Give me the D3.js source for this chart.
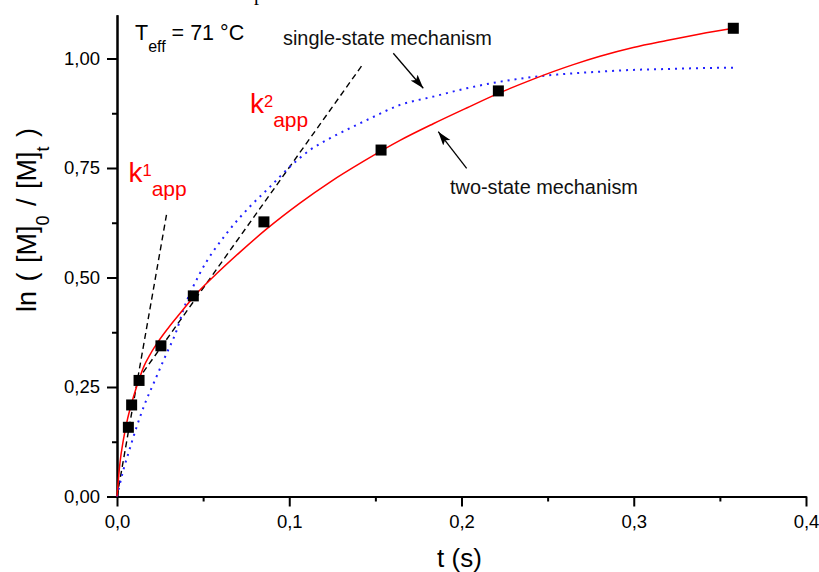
<!DOCTYPE html>
<html>
<head>
<meta charset="utf-8">
<script src="https://cdn.jsdelivr.net/npm/d3@7"></script>
<style>
  body { margin: 0; background: #fff; }
  svg { display: block; font-family: "Liberation Sans", Arial, Helvetica, sans-serif; }
</style>
</head>
<body>
<svg id="chart" width="819" height="572"></svg>
<script>
// Measured conversion: t (s) vs ln([M]0/[M]t)
const measuredT = [0.0066, 0.0085, 0.0128, 0.0255, 0.0443, 0.0853, 0.1533, 0.2214, 0.3578];
const measuredY = [0.158, 0.209, 0.265, 0.344, 0.458, 0.627, 0.791, 0.926, 1.069];

// Two-state mechanism fit
const twoStateT = [0, 0.0017, 0.0037, 0.0060, 0.0085, 0.0110, 0.0134, 0.0155, 0.0192, 0.0240,
  0.0300, 0.0370, 0.0443, 0.0579, 0.0714, 0.0869, 0.1062, 0.1237, 0.1430, 0.1643, 0.1836,
  0.2030, 0.2224, 0.2417, 0.2649, 0.2804, 0.2997, 0.3191, 0.3385, 0.3578];
const twoStateY = [0, 0.076, 0.129, 0.175, 0.213, 0.246, 0.274, 0.296, 0.324, 0.354,
  0.386, 0.420, 0.455, 0.509, 0.558, 0.611, 0.670, 0.718, 0.765, 0.813, 0.851,
  0.887, 0.922, 0.953, 0.986, 1.005, 1.025, 1.041, 1.056, 1.069];

// Single-state mechanism fit
const singleStateT = [0, 0.0037, 0.0066, 0.0114, 0.0163, 0.0221, 0.0279, 0.0347, 0.0385, 0.0482,
  0.0637, 0.0772, 0.0888, 0.1004, 0.1120, 0.1237, 0.1353, 0.1469, 0.1643, 0.1836, 0.2030,
  0.2224, 0.2417, 0.2611, 0.2804, 0.2997, 0.3191, 0.3385, 0.3578];
const singleStateY = [0, 0.0605, 0.0986, 0.159, 0.213, 0.266, 0.319, 0.380, 0.426, 0.510,
  0.601, 0.662, 0.707, 0.753, 0.791, 0.818, 0.841, 0.863, 0.894, 0.913, 0.932,
  0.947, 0.958, 0.965, 0.970, 0.974, 0.976, 0.978, 0.979];

// Initial-rate tangents k1_app and k2_app
const k1LineT = [0, 0.0289];
const k1LineY = [0, 0.647];
const k2LineT = [0.0118, 0.1431];
const k2LineY = [0.265, 0.989];

// Axis ticks
const xTickValues = [0, 0.1, 0.2, 0.3, 0.4];
const xTickLabels = ["0,0", "0,1", "0,2", "0,3", "0,4"];
const xMinorTicks = [0.05, 0.15, 0.25, 0.35];
const yTickValues = [0, 0.25, 0.5, 0.75, 1.0];
const yTickLabels = ["0,00", "0,25", "0,50", "0,75", "1,00"];
const yMinorTicks = [0.125, 0.375, 0.625, 0.875];

const svg = d3.select("#chart");
const x = d3.scaleLinear().domain([0, 0.4]).range([117, 806]);
const y = d3.scaleLinear().domain([0, 1.1]).range([496.5, 14.7]);

const pts = (ts, ys) => ts.map((t, i) => [t, ys[i]]);
const line = d3.line().x(d => x(d[0])).y(d => y(d[1]));
const smooth = d3.line().x(d => x(d[0])).y(d => y(d[1])).curve(d3.curveMonotoneX);

// Arrow marker
svg.append("defs").append("marker")
  .attr("id", "arrow").attr("markerUnits", "userSpaceOnUse")
  .attr("markerWidth", 15).attr("markerHeight", 10)
  .attr("refX", 14).attr("refY", 5).attr("orient", "auto")
  .append("path").attr("d", "M0,0.5 L14,5 L0,9.5 L3,5 Z").attr("fill", "#000");

// Axes
const axisStyle = g => {
  g.select(".domain").attr("stroke", "#000").attr("stroke-width", 2);
  g.selectAll(".tick line").attr("stroke", "#000").attr("stroke-width", 2);
  g.selectAll(".tick text").attr("fill", "#000").style("font-size", "18.5px")
    .style("font-family", '"Liberation Sans", Arial, sans-serif');
};

svg.append("g").attr("transform", `translate(0,${y(0)})`)
  .call(d3.axisBottom(x).tickValues(xMinorTicks).tickSize(5).tickSizeOuter(0).tickFormat(""))
  .call(axisStyle);
svg.append("g").attr("transform", `translate(0,${y(0)})`)
  .call(d3.axisBottom(x).tickValues(xTickValues).tickSize(10).tickSizeOuter(0).tickPadding(8)
    .tickFormat((d, i) => xTickLabels[i]))
  .call(axisStyle);

svg.append("g").attr("transform", `translate(${x(0)},0)`)
  .call(d3.axisLeft(y).tickValues(yMinorTicks).tickSize(5).tickSizeOuter(0).tickFormat(""))
  .call(axisStyle);
svg.append("g").attr("transform", `translate(${x(0)},0)`)
  .call(d3.axisLeft(y).tickValues(yTickValues).tickSize(10).tickSizeOuter(0).tickPadding(7)
    .tickFormat((d, i) => yTickLabels[i]))
  .call(axisStyle);

// Tangent lines
[[k1LineT, k1LineY], [k2LineT, k2LineY]].forEach(([ts, ys]) => {
  svg.append("path").attr("d", line(pts(ts, ys)))
    .attr("fill", "none").attr("stroke", "#000").attr("stroke-width", 1.4)
    .attr("stroke-dasharray", "6,4");
});

// Single-state model (dotted blue)
svg.append("path").attr("d", smooth(pts(singleStateT, singleStateY)))
  .attr("fill", "none").attr("stroke", "#2020ff").attr("stroke-width", 2)
  .attr("stroke-dasharray", "2,5");

// Two-state model (solid red)
svg.append("path").attr("d", smooth(pts(twoStateT, twoStateY)))
  .attr("fill", "none").attr("stroke", "#ff0000").attr("stroke-width", 1.5);

// Measured points
const sq = 11;
svg.append("g").selectAll("rect").data(pts(measuredT, measuredY)).join("rect")
  .attr("x", d => x(d[0]) - sq / 2).attr("y", d => y(d[1]) - sq / 2)
  .attr("width", sq).attr("height", sq).attr("fill", "#000");

// Annotation arrows
const arrows = [
  { from: [0.1604, 1.012], to: [0.1778, 0.932] },
  { from: [0.2030, 0.749], to: [0.1865, 0.833] }
];
arrows.forEach(a => {
  svg.append("line")
    .attr("x1", x(a.from[0])).attr("y1", y(a.from[1]))
    .attr("x2", x(a.to[0])).attr("y2", y(a.to[1]))
    .attr("stroke", "#000").attr("stroke-width", 1.3).attr("marker-end", "url(#arrow)");
});

// Labels
svg.append("text").attr("x", 283).attr("y", 45).style("font-size", "19.9px").attr("fill", "#111")
  .text("single-state mechanism");
svg.append("text").attr("x", 450).attr("y", 194).style("font-size", "19.9px").attr("fill", "#111")
  .text("two-state mechanism");

const teff = svg.append("text").attr("x", 135).attr("y", 40).style("font-size", "21.5px").attr("fill", "#000");
teff.append("tspan").text("T");
teff.append("tspan").attr("dy", 11.5).style("font-size", "16px").text("eff");
teff.append("tspan").attr("dy", -11.5).text(" = 71 °C");

function kLabel(x0, y0, sup) {
  const t = svg.append("text").attr("x", x0).attr("y", y0).attr("fill", "#ff0000").style("font-size", "28px");
  t.append("tspan").text("k");
  t.append("tspan").attr("dy", -6).style("font-size", "16.5px").text(sup);
  t.append("tspan").attr("dy", 20).style("font-size", "21px").text("app");
}
kLabel(128.5, 181.7, "1");
kLabel(250, 113.3, "2");

// Axis titles
svg.append("text").attr("x", (x(0) + x(0.4)) / 2 - 2).attr("y", 567).attr("text-anchor", "middle")
  .style("font-size", "26px").attr("fill", "#000").text("t (s)");

const yt = svg.append("text").attr("transform", "translate(36,220) rotate(-90)")
  .attr("text-anchor", "middle").style("font-size", "27px").style("word-spacing", "2px").attr("fill", "#000");
yt.append("tspan").text("ln ( [M]");
yt.append("tspan").attr("dy", 13).style("font-size", "18px").text("0");
yt.append("tspan").attr("dy", -13).text(" / [M]");
yt.append("tspan").attr("dy", 13).style("font-size", "18px").text("t");
yt.append("tspan").attr("dy", -13).text(" )");

// Clipped heading glyph at the top edge
svg.append("text").attr("x", 254).attr("y", 0).style("font-family", '"Liberation Serif", "Times New Roman", serif')
  .style("font-size", "20px").attr("fill", "#000").text("p");
</script>
</body>
</html>
